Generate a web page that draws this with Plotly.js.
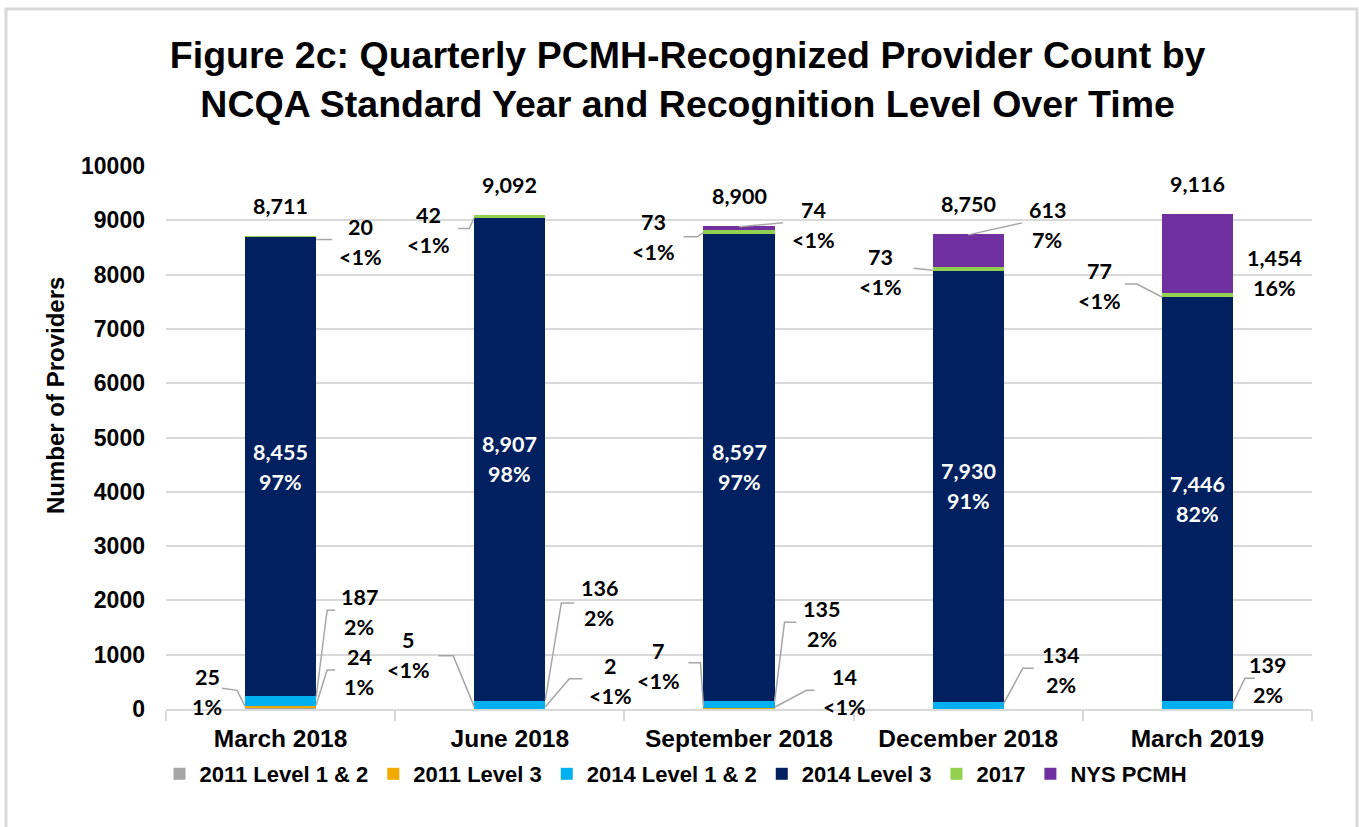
<!DOCTYPE html>
<html><head><meta charset="utf-8">
<script src="https://cdn.plot.ly/plotly-3.0.1.min.js"></script>
<style>html,body{margin:0;padding:0;background:#fff}#chart{width:1359px;height:827px}</style>
</head><body><div id="chart"></div>
<script>
// ---------- data ----------
const categories = ['March 2018', 'June 2018', 'September 2018', 'December 2018', 'March 2019'];
const seriesNames = ['2011 Level 1 & 2', '2011 Level 3', '2014 Level 1 & 2', '2014 Level 3', '2017', 'NYS PCMH'];
const v2011L12 = [25, 5, 7, 0, 0];
const v2011L3  = [24, 2, 14, 0, 0];
const v2014L12 = [187, 136, 135, 134, 139];
const v2014L3  = [8455, 8907, 8597, 7930, 7446];
const v2017    = [20, 42, 73, 73, 77];
const vNYS     = [0, 0, 74, 613, 1454];
const p2011L12 = ['1%', '<1%', '<1%', '', ''];
const p2011L3  = ['1%', '<1%', '<1%', '', ''];
const p2014L12 = ['2%', '2%', '2%', '2%', '2%'];
const p2014L3  = ['97%', '98%', '97%', '91%', '82%'];
const p2017    = ['<1%', '<1%', '<1%', '<1%', '<1%'];
const pNYS     = ['', '', '<1%', '7%', '16%'];

// ---------- styles ----------
const colors = ['#a5a5a5', '#f2a900', '#00b0f0', '#002060', '#92d050', '#7030a0'];
const values = [v2011L12, v2011L3, v2014L12, v2014L3, v2017, vNYS];
const pcts = [p2011L12, p2011L3, p2014L12, p2014L3, p2017, pNYS];
const BARGAP = 0.69;
const HALF = (1 - BARGAP) / 2;
const M = {l: 166, r: 47, t: 166, b: 118};
const W = 1359, H = 827;
const PW = W - M.l - M.r, PH = H - M.t - M.b;
const px2x = px => (px - M.l) / PW;
const py2y = py => (H - M.b - py) / PH;
const labelFont = {family: 'Lato, Carlito, sans-serif', size: 21.5, color: '#000', weight: 'bold'};
const axisFont = {family: 'Liberation Sans, Arial, sans-serif', size: 23, color: '#000', weight: 'bold'};

// callout placement (pixel offsets from the anchor on the bar)
const callouts = [
  {s: 0, c: 0, side: -1, at: 'mid', dx: -38, dy: 16, path: [[0, 2], [-8, 18], [-23, 20]]},
  {s: 1, c: 0, side: 1, at: 'mid', dx: 43, dy: 35, path: [[0, 2], [11, 37], [19, 37]]},
  {s: 2, c: 0, side: 1, at: 'mid', dx: 43, dy: 89, path: [[0, 4], [11, 91], [19, 91]]},
  {s: 4, c: 0, side: 1, at: 'mid', dx: 44, dy: -5, path: [[0, -3], [16, -3]]},
  {s: 0, c: 1, side: -1, at: 'mid', dx: -66, dy: 54, path: [[0, 2], [-21, 53], [-36, 53]]},
  {s: 1, c: 1, side: 1, at: 'mid', dx: 65, dy: 28, path: [[0, 2], [24, 30], [37, 30]]},
  {s: 2, c: 1, side: 1, at: 'mid', dx: 54, dy: 102, path: [[0, 5], [16, 102], [29, 102]]},
  {s: 4, c: 1, side: -1, at: 'mid', dx: -46, dy: -14, path: [[0, -1], [-5, -12], [-16, -12]]},
  {s: 0, c: 2, side: -1, at: 'mid', dx: -45, dy: 43, path: [[0, 2], [-3, 46], [-15, 46]]},
  {s: 1, c: 2, side: 1, at: 'mid', dx: 70, dy: 16, path: [[0, 1], [32, 18], [40, 18]]},
  {s: 2, c: 2, side: 1, at: 'mid', dx: 47, dy: 80, path: [[0, 2], [10, 82], [22, 82]]},
  {s: 4, c: 2, side: -1, at: 'mid', dx: -50, dy: -5, path: [[0, -1], [-6, -5], [-20, -5]]},
  {s: 5, c: 2, side: 0, at: 'top', dx: 74, dy: 1, path: [[0, -1], [44, 3]]},
  {s: 2, c: 3, side: 1, at: 'mid', dx: 57, dy: 35, path: [[0, 2], [19, 37], [30, 37]]},
  {s: 4, c: 3, side: -1, at: 'mid', dx: -52, dy: -3, path: [[0, -1], [-19, 1]]},
  {s: 5, c: 3, side: 0, at: 'top', dx: 79, dy: 9, path: [[0, -1], [54, 11]]},
  {s: 2, c: 4, side: 1, at: 'mid', dx: 35, dy: 25, path: [[0, 2], [12, 27], [22, 27]]},
  {s: 4, c: 4, side: -1, at: 'mid', dx: -62, dy: 9, path: [[0, -2], [-25, 11], [-37, 11]]},
  {s: 5, c: 4, side: 1, at: 'mid', dx: 42, dy: -20, path: null}
];

// ---------- traces ----------
const traces = seriesNames.map((name, i) => ({
  type: 'bar', name: name, x: categories, y: values[i],
  marker: {color: colors[i], line: {width: 0}},
  hoverinfo: 'x+y+name'
}));

// cumulative bases
const bases = values.map((_, i) => categories.map((_, c) => {
  let b = 0; for (let k = 0; k < i; k++) b += values[k][c]; return b;
}));
const totals = categories.map((_, c) => values.reduce((a, arr) => a + arr[c], 0));
const fmt = n => n.toLocaleString('en-US');

const annotations = [];
const shapes = [];
function twoLine(x, y, xs, ys, l1, l2, font) {
  annotations.push({x: x, y: y, xref: 'x', yref: 'y', xshift: xs, yshift: ys + 15, text: l1, showarrow: false, font: font});
  annotations.push({x: x, y: y, xref: 'x', yref: 'y', xshift: xs, yshift: ys - 15, text: l2, showarrow: false, font: font});
}
// inside labels for 2014 Level 3
categories.forEach((_, c) => {
  const y = bases[3][c] + values[3][c] / 2;
  twoLine(c, y, 0, 0, fmt(values[3][c]), p2014L3[c], Object.assign({}, labelFont, {color: '#ffffff'}));
});
// totals
categories.forEach((_, c) => {
  annotations.push({x: c, y: totals[c], xref: 'x', yref: 'y', yshift: 30, text: fmt(totals[c]), showarrow: false, font: labelFont});
});
// callouts
callouts.forEach(o => {
  const v = values[o.s][o.c];
  const y = o.at === 'top' ? bases[o.s][o.c] + v : bases[o.s][o.c] + v / 2;
  const x = o.c + o.side * HALF;
  twoLine(x, y, o.dx, o.dy, fmt(v), pcts[o.s][o.c], labelFont);
  if (o.path) {
    const d = o.path.map((p, k) => (k ? 'L' : 'M') + p[0] + ',' + p[1]).join(' ');
    shapes.push({type: 'path', xref: 'x', yref: 'y', xsizemode: 'pixel', ysizemode: 'pixel',
      xanchor: x, yanchor: y, path: d, line: {color: '#a6a6a6', width: 1.5}, layer: 'above'});
  }
});
// y-axis title (placed as in the original, above plot centre)
annotations.push({xref: 'paper', yref: 'paper', x: px2x(55), y: py2y(396), text: 'Number of Providers',
  textangle: -90, showarrow: false, xanchor: 'center', yanchor: 'middle',
  font: {family: 'Liberation Sans, Arial, sans-serif', size: 24, color: '#000', weight: 'bold'}});
// chart border
shapes.push({type: 'rect', xref: 'paper', yref: 'paper',
  x0: px2x(6), x1: px2x(1357), y0: py2y(840), y1: py2y(9),
  line: {color: '#d9d9d9', width: 3}, fillcolor: 'rgba(0,0,0,0)', layer: 'below'});

const layout = {
  width: W, height: H,
  margin: M,
  paper_bgcolor: '#ffffff', plot_bgcolor: '#ffffff',
  barmode: 'stack', bargap: BARGAP,
  title: {
    text: 'Figure 2c: Quarterly PCMH-Recognized Provider Count by<br>NCQA Standard Year and Recognition Level Over Time',
    font: {family: 'Liberation Sans, Arial, sans-serif', size: 37.5, color: '#000', weight: 'bold'},
    x: 0.506, xanchor: 'center', xref: 'container', y: 1 - 68 / H, yref: 'container', yanchor: 'middle'
  },
  xaxis: {
    type: 'category', tickfont: Object.assign({}, axisFont, {size: 24.5}),
    showline: true, linecolor: '#d9d9d9', linewidth: 2,
    ticks: 'outside', tickson: 'boundaries', ticklen: 10, tickcolor: '#d9d9d9', tickwidth: 2,
    ticklabelstandoff: 7, showgrid: false, fixedrange: true
  },
  yaxis: {
    range: [0, 10000], dtick: 1000, tickformat: 'd', tickfont: axisFont,
    showgrid: true, gridcolor: '#d9d9d9', gridwidth: 2, zeroline: false, showline: false,
    ticks: '', ticklabelstandoff: 20, fixedrange: true
  },
  legend: {
    orientation: 'h', x: px2x(676), xanchor: 'center', y: py2y(774), yanchor: 'middle',
    font: {family: 'Liberation Sans, Arial, sans-serif', size: 22, color: '#000', weight: 'bold'},
    traceorder: 'normal', itemwidth: 30, bgcolor: 'rgba(0,0,0,0)'
  },
  annotations: annotations,
  shapes: shapes,
  showlegend: true
};
Plotly.newPlot('chart', traces, layout, {displayModeBar: false, staticPlot: true});
</script>
</body></html>
